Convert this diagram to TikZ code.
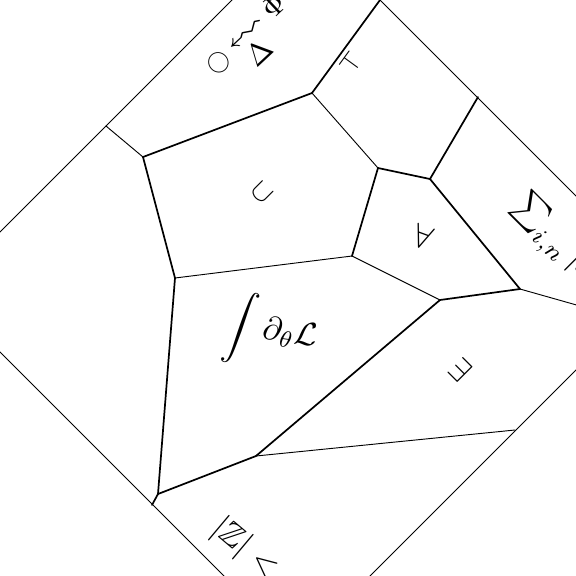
\documentclass[tikz,border=0pt]{standalone}
\usepackage{amsmath,amssymb}
\begin{document}
\begin{tikzpicture}[x=0.38pt,y=-0.38pt,
  thinl/.style={line width=0.35pt, line join=round, line cap=round},
  thickl/.style={line width=0.65pt, line join=round, line cap=round},
  lbl/.style={inner sep=0pt, outer sep=0pt}]
\useasboundingbox (0,0) rectangle (576,576);
\clip (0,0) rectangle (576,576);
% outer frame (rotated square)
\coordinate (Nt) at (306,-74);
\coordinate (Nr) at (663,283);
\coordinate (Nb) at (297,649);
\coordinate (Nl) at (-60,292);
\draw[thinl] (Nt) -- (Nr) -- (Nb) -- (Nl) -- cycle;
% cell vertices
\coordinate (A) at (143,157);
\coordinate (B) at (312,93);
\coordinate (C) at (378,168);
\coordinate (D) at (430,179);
\coordinate (E) at (520,289);
\coordinate (F) at (440,300);
\coordinate (G) at (352,256);
\coordinate (H) at (175,278);
\coordinate (I) at (158,494);
\coordinate (J) at (256,456);
% boundary points
\coordinate (P1) at (106,126);
\coordinate (P2) at (380,0);
\coordinate (P3) at (478,97);
\coordinate (P4) at (152,505);
\coordinate (P5) at (515,430);
\coordinate (P6) at (626,319);
% edges
\draw[thinl] (P1) -- (A);
\draw[thickl] (A) -- (B);
\draw[thickl] (B) -- (P2);
\draw[thinl] (B) -- (C);
\draw[thickl] (C) -- (D);
\draw[thickl] (D) -- (P3);
\draw[thickl] (D) -- (E);
\draw[thickl] (C) -- (G);
\draw[thinl] (G) -- (H);
\draw[thinl] (G) -- (F);
\draw[thickl] (F) -- (E);
\draw[thinl] (E) -- (P6);
\draw[thickl] (A) -- (H);
\draw[thickl] (H) -- (I);
\draw[thickl] (I) -- (P4);
\draw[thickl] (I) -- (J);
\draw[thickl] (J) -- (F);
\draw[thinl] (J) -- (P5);
% labels
\node[lbl, rotate=43, scale=0.85, anchor=base] (lt) at (251,40)
  {$\bigcirc\;\underset{\scalebox{1.35}{$\Delta$}}{\reflectbox{\scalebox{2.0}[1.4]{$\rightsquigarrow$}}}\;\scalebox{1.3}{$\Phi$}$};
\node[lbl, rotate=54] (ltop) at (351,63) {$\top$};
\node[lbl, rotate=-45, scale=1.3, anchor=base west] (lsum) at (512,206) {$\sum_{i,n}|x|$};
\node[lbl, rotate=-45, scale=1.1] (lcup) at (262,193) {$\cup$};
\node[lbl, rotate=-20, scale=1.25] (lall) at (423,237) {$\forall$};
\node[lbl, rotate=-8, scale=1.25] (lint) at (271,332) {$\displaystyle\int\partial_{\theta}\mathcal{L}$};
\node[lbl, rotate=-45, scale=1.2] (lex) at (460,370) {$\exists$};
\node[lbl, rotate=-40, scale=1.25, anchor=base west] (lz) at (211,531) {$|\mathbb{Z}|<x$};
\end{tikzpicture}
\end{document}
